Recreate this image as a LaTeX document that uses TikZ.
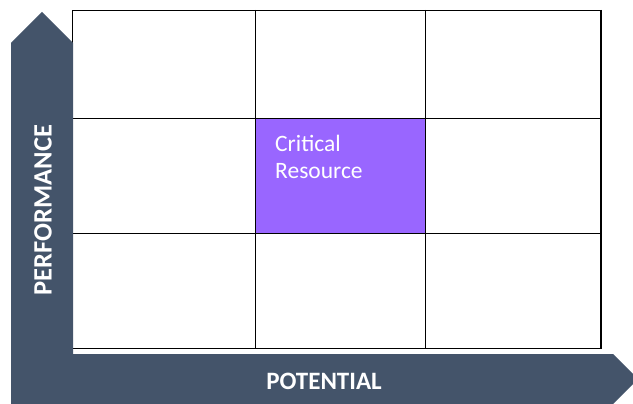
\documentclass[tikz,border=0pt]{standalone}
\usepackage{fontspec}
\setmainfont{Carlito}
\definecolor{axisblue}{HTML}{44546A}
\definecolor{critpurple}{HTML}{9966FF}
\begin{document}
\begin{tikzpicture}[x=1pt,y=-1pt,
  gridline/.style={draw=black,line width=0.9pt},
  axislabel/.style={text=white,font=\fontsize{25}{30}\selectfont\bfseries,inner sep=0pt},
  cell/.style={minimum width=170pt,minimum height=115pt,inner sep=0pt,anchor=north west},
  celltext/.style={text=white,font=\fontsize{23.5}{27}\selectfont,align=left,inner sep=0pt,anchor=north west}]
\useasboundingbox (0,0) rectangle (633,404);
\clip (0,0) rectangle (633,404);
% highlighted cell
\node[cell,fill=critpurple] (crit) at (255,118) {};
\node[celltext] (critText) at (275,135) {Critical\\Resource};
% 3x3 grid
\draw[gridline] (72,10) rectangle (601,348);
\draw[gridline] (255,10) -- (255,348);
\draw[gridline] (425,10) -- (425,348);
\draw[gridline] (72,118) -- (601,118);
\draw[gridline] (72,233) -- (601,233);
\draw[black,line width=2.5pt] (601,10) -- (601,348);
% L-shaped axes with arrow heads
\fill[axisblue] (11,404) -- (11,43) -- (42,12) -- (73,43) -- (73,354)
  -- (613,354) -- (638,379) -- (613,404) -- cycle;
\node[axislabel,font=\fontsize{26.5}{30}\selectfont\bfseries] (perf) at (43,210) [rotate=90] {PERFORMANCE};
\node[axislabel] (pot) at (324,381) {POTENTIAL};
\end{tikzpicture}
\end{document}
